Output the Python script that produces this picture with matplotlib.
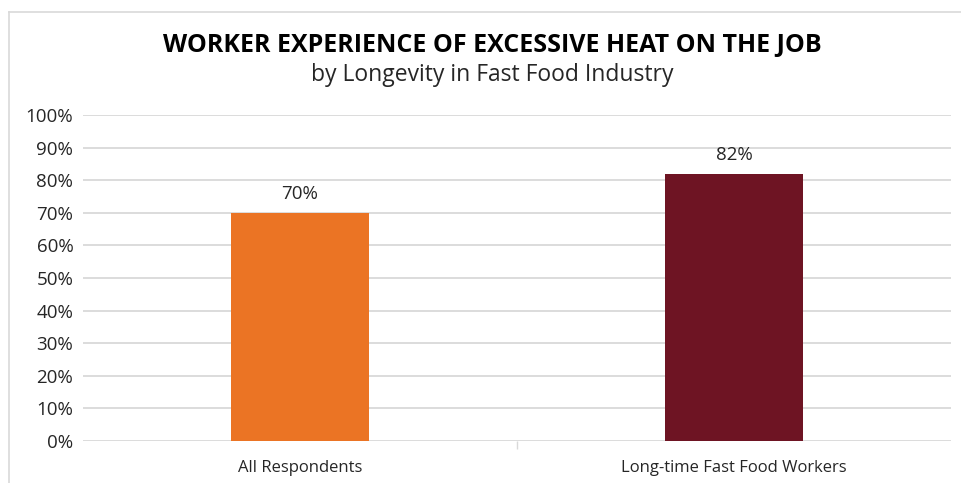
import matplotlib.pyplot as plt
from matplotlib.lines import Line2D
from matplotlib.ticker import FuncFormatter, FixedLocator

categories = ['All Respondents', 'Long-time Fast Food Workers']
values = [70, 82]
colors = ['#EB7424', '#6E1423']
yticks = list(range(0, 101, 10))

plt.rcParams['font.family'] = ['Open Sans', 'DejaVu Sans']

fig = plt.figure(figsize=(9.62, 4.83), dpi=100)
ax = fig.add_axes([83 / 962, 1 - 441 / 483, (951 - 83) / 962, (441 - 115) / 483])

x = range(len(categories))
ax.bar(x, values, width=0.316, color=colors, zorder=3)
for xi, v in zip(x, values):
    ax.text(xi, v + 3, f'{v}%', ha='center', va='bottom', fontsize=13.5, color='#262626')

ax.set_xlim(-0.5, 1.5)
ax.set_ylim(0, 100)
ax.set_yticks(yticks)
ax.yaxis.set_major_formatter(FuncFormatter(lambda v, p: f'{v:.0f}%'))
ax.grid(axis='y', color='#D9D9D9', linewidth=1.3, zorder=0)
ax.set_xticks(list(x))
ax.set_xticklabels(categories, fontsize=12, color='#262626')
ax.xaxis.set_minor_locator(FixedLocator([0.5]))
ax.tick_params(axis='x', which='major', length=0, pad=14)
ax.tick_params(axis='x', which='minor', length=6, color='#D9D9D9', width=1)
ax.tick_params(axis='y', length=0, pad=7, labelsize=13.5, labelcolor='#262626')
for s in ax.spines.values():
    s.set_visible(False)

fig.text(0.512, 1 - 45 / 483, 'WORKER EXPERIENCE OF EXCESSIVE HEAT ON THE JOB',
         ha='center', va='center', fontsize=18, fontweight='bold', color='black')
fig.text(0.512, 1 - 75 / 483, 'by Longevity in Fast Food Industry',
         ha='center', va='center', fontsize=16.5, color='#262626')

# chart border (top and left edges visible)
fig.add_artist(Line2D([9 / 962, 1], [1 - 12 / 483] * 2, color='#D9D9D9', lw=1.2))
fig.add_artist(Line2D([9 / 962] * 2, [0, 1 - 12 / 483], color='#D9D9D9', lw=1.2))

fig.savefig('out.png', dpi=100)
